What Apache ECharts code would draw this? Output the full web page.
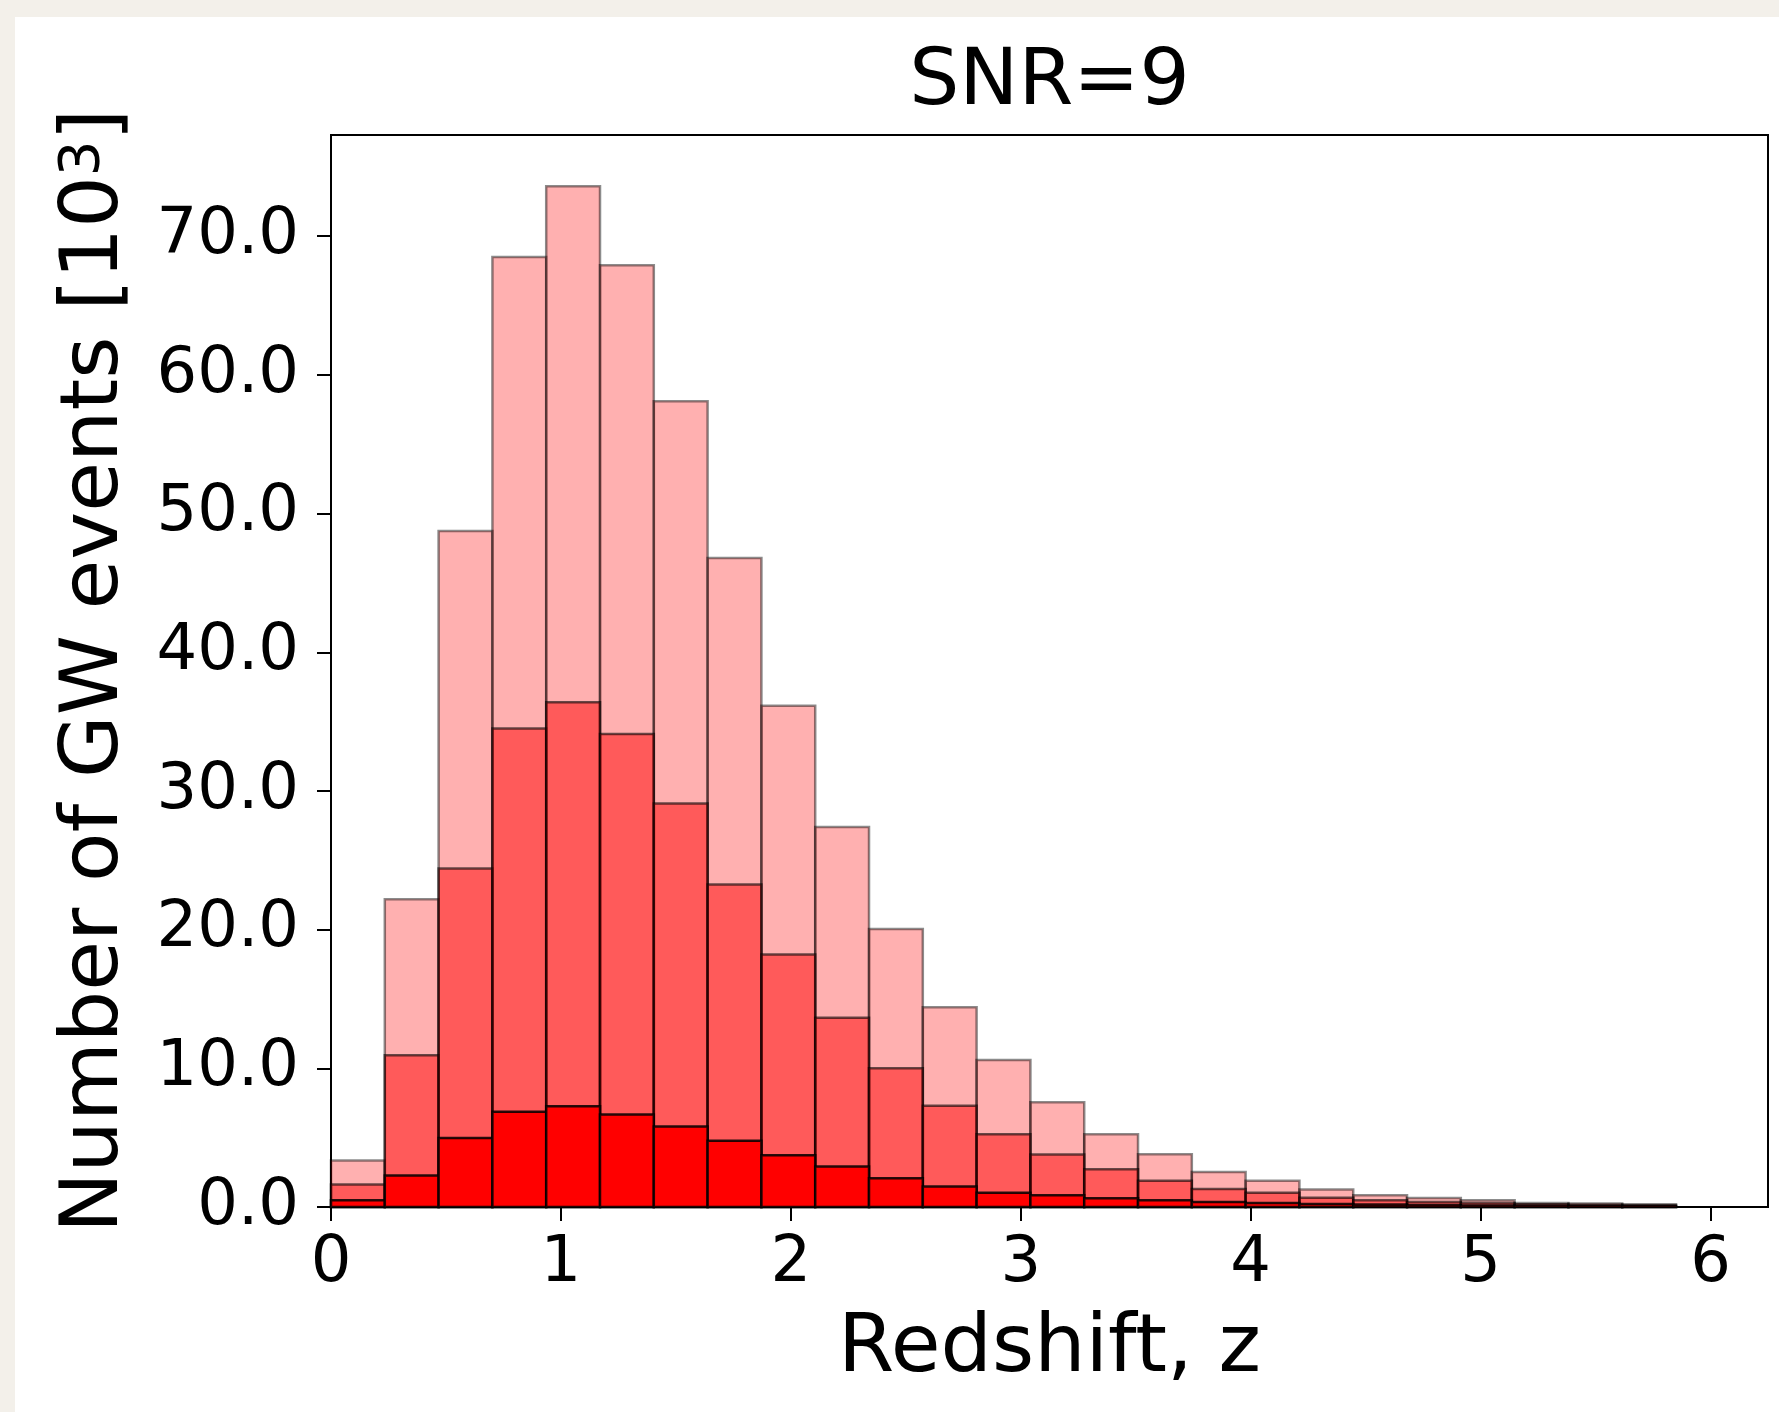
<!DOCTYPE html>
<html>
<head>
<meta charset="utf-8">
<title>SNR=9</title>
<script src="https://cdn.jsdelivr.net/npm/echarts@6/dist/echarts.min.js"></script>
<style>
  html, body { margin: 0; padding: 0; background: #f3f0ea; }
  #card { position: absolute; left: 15px; top: 17px; width: 1764px; height: 1395px; background: #fff; }
  #main { position: absolute; left: 0; top: 0; width: 1779px; height: 1412px; }
</style>
</head>
<body>
<div id="card"></div>
<div id="main"></div>
<script>
// bin edges of the redshift histogram
var binEdges = [0.000, 0.234, 0.468, 0.702, 0.936, 1.170, 1.404, 1.638, 1.872, 2.106,
  2.340, 2.574, 2.808, 3.042, 3.276, 3.510, 3.744, 3.978, 4.212, 4.446,
  4.680, 4.914, 5.148, 5.382, 5.616, 5.850];

// counts per bin, in units of 10^3
var countsAll = [3.35, 22.2, 48.75, 68.5, 73.6, 67.9, 58.1, 46.8, 36.15, 27.4,
  20.05, 14.4, 10.6, 7.55, 5.24, 3.8, 2.52, 1.9, 1.27, 0.84,
  0.65, 0.48, 0.29, 0.26, 0.19];
var countsMid = [1.63, 10.95, 24.4, 34.5, 36.4, 34.1, 29.1, 23.25, 18.2, 13.65,
  10.0, 7.3, 5.25, 3.78, 2.72, 1.9, 1.3, 1.03, 0.67, 0.48,
  0.36, 0.29, 0.19, 0.17, 0.12];
var countsLow = [0.48, 2.27, 4.98, 6.87, 7.27, 6.67, 5.81, 4.78, 3.73, 2.92,
  2.08, 1.48, 1.03, 0.84, 0.63, 0.48, 0.36, 0.29, 0.22, 0.18,
  0.14, 0.11, 0.09, 0.07, 0.05];

var xTicks = [0, 1, 2, 3, 4, 5, 6];
var yTicks = [0, 10, 20, 30, 40, 50, 60, 70];

var FONT = 'DejaVu Sans';

function toBins(counts) {
  var out = [];
  for (var i = 0; i < counts.length; i++) {
    out.push([binEdges[i], binEdges[i + 1], counts[i]]);
  }
  return out;
}

function histSeries(name, counts, fill, edge) {
  return {
    name: name,
    type: 'custom',
    data: toBins(counts),
    encode: { x: [0, 1], y: 2 },
    renderItem: function (params, api) {
      var p0 = api.coord([api.value(0), api.value(2)]);
      var p1 = api.coord([api.value(1), 0]);
      return {
        type: 'rect',
        shape: { x: p0[0], y: p0[1], width: p1[0] - p0[0], height: p1[1] - p0[1] },
        style: { fill: fill, stroke: edge, lineWidth: 2.5 }
      };
    }
  };
}

var myChart = echarts.init(document.getElementById('main'));
myChart.setOption({
  backgroundColor: 'transparent',
  animation: false,
  title: {
    text: 'SNR=9',
    left: 1049.5,
    top: 44,
    padding: 0,
    textAlign: 'center',
    textStyle: { fontFamily: FONT, fontSize: 79, fontWeight: 'normal', color: '#000', lineHeight: 79 }
  },
  grid: {
    left: 331, right: 11, top: 135, bottom: 205,
    show: true, borderColor: '#000', borderWidth: 2,
    containLabel: false, outerBoundsMode: 'none'
  },
  xAxis: {
    type: 'value',
    min: 0, max: 6.25,
    name: 'Redshift, z',
    nameLocation: 'middle',
    nameGap: 102,
    nameTextStyle: { fontFamily: FONT, fontSize: 81, color: '#000', lineHeight: 81 },
    axisLine: { show: true, lineStyle: { color: '#000', width: 2 } },
    axisTick: { show: true, customValues: xTicks, length: 14, lineStyle: { color: '#000', width: 2 } },
    axisLabel: {
      customValues: xTicks, margin: 25,
      fontFamily: FONT, fontSize: 64, color: '#000', lineHeight: 64,
      formatter: function (v) { return String(v); }
    },
    splitLine: { show: false }
  },
  yAxis: {
    type: 'value',
    min: 0, max: 77.3,
    name: '{n|Number of GW events [10}{s|3}{n|]}',
    nameLocation: 'middle',
    nameGap: 195,
    nameTextStyle: {
      fontFamily: FONT, fontSize: 81, color: '#000',
      rich: {
        n: { fontFamily: FONT, fontSize: 81, lineHeight: 81, color: '#000' },
        s: { fontFamily: FONT, fontSize: 56, lineHeight: 22, verticalAlign: 'top', color: '#000' }
      }
    },
    axisLine: { show: true, lineStyle: { color: '#000', width: 2 } },
    axisTick: { show: true, customValues: yTicks, length: 14, lineStyle: { color: '#000', width: 2 } },
    axisLabel: {
      customValues: yTicks, margin: 32,
      fontFamily: FONT, fontSize: 64, color: '#000',
      formatter: function (v) { return v.toFixed(1); }
    },
    splitLine: { show: false }
  },
  series: [
    histSeries('all', countsAll, 'rgba(255,0,0,0.31)', 'rgba(0,0,0,0.45)'),
    histSeries('mid', countsMid, 'rgba(255,0,0,0.49)', 'rgba(0,0,0,0.6)'),
    histSeries('low', countsLow, 'rgba(255,0,0,1)', 'rgba(0,0,0,0.85)')
  ]
});
</script>
</body>
</html>
